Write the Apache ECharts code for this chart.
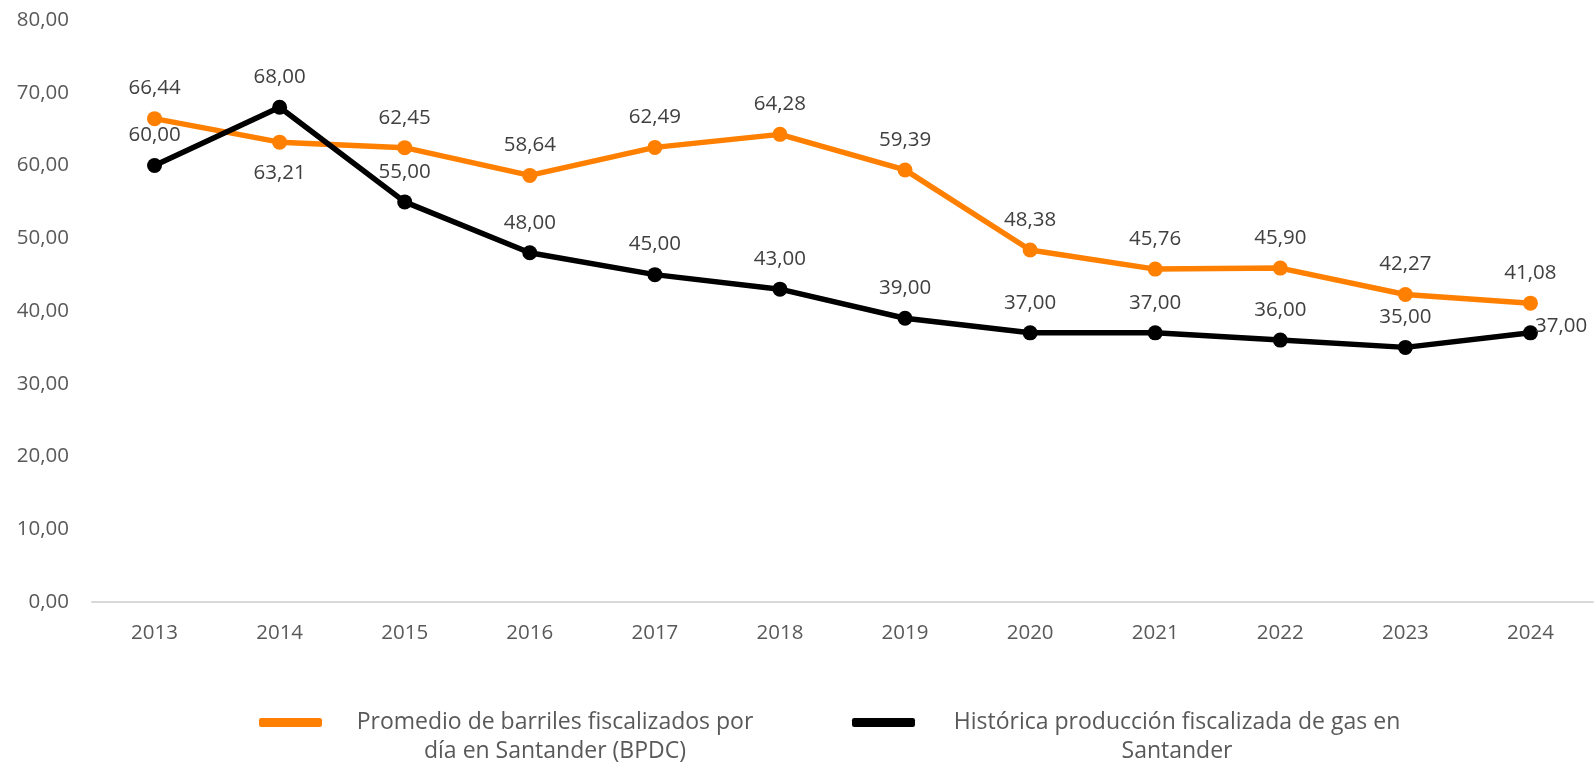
<!DOCTYPE html>
<html>
<head>
<meta charset="utf-8">
<script src="https://cdn.jsdelivr.net/npm/echarts@6/dist/echarts.min.js"></script>
<style>
  html, body { margin: 0; padding: 0; background: #fff; }
  #chart { width: 1595px; height: 763px; }
</style>
</head>
<body>
<div id="chart"></div>
<script>
// categorías (años)
const years = ['2013', '2014', '2015', '2016', '2017', '2018', '2019', '2020', '2021', '2022', '2023', '2024'];

// series
const barriles = [66.44, 63.21, 62.45, 58.64, 62.49, 64.28, 59.39, 48.38, 45.76, 45.90, 42.27, 41.08];
const gas = [60, 68, 55, 48, 45, 43, 39, 37, 37, 36, 35, 37];

const nameBarriles = 'Promedio de barriles fiscalizados por día en Santander (BPDC)';
const nameGas = 'Histórica producción fiscalizada de gas en Santander';

const fmt = v => Number(v).toFixed(2).replace('.', ',');
const font = '"Open Sans", Lato, sans-serif';

const chart = echarts.init(document.getElementById('chart'));

const labelStyle = {
  show: true,
  position: 'top',
  distance: 12,
  color: '#404040',
  fontSize: 20.5,
  fontFamily: font,
  formatter: p => fmt(p.value)
};

const option = {
  animation: false,
  grid: { left: 92, right: 2, top: 20, bottom: 161 },
  legend: [
    {
      data: [nameBarriles],
      left: 254,
      top: 706,
      itemWidth: 63,
      itemHeight: 9,
      icon: 'roundRect',
      formatter: () => '{a|Promedio de barriles fiscalizados por}\n{a|día en Santander (BPDC)}',
      textStyle: {
        padding: [29, 0, 0, 28],
        rich: { a: { width: 400, align: 'center', fontSize: 23, lineHeight: 29, color: '#595959', fontFamily: font } }
      }
    },
    {
      data: [nameGas],
      left: 847,
      top: 706,
      itemWidth: 63,
      itemHeight: 9,
      icon: 'roundRect',
      formatter: () => '{a|Histórica producción fiscalizada de gas en}\n{a|Santander}',
      textStyle: {
        padding: [29, 0, 0, 32],
        rich: { a: { width: 450, align: 'center', fontSize: 23, lineHeight: 29, color: '#595959', fontFamily: font } }
      }
    }
  ],
  xAxis: {
    type: 'category',
    data: years,
    boundaryGap: true,
    axisLine: { lineStyle: { color: '#d9d9d9', width: 2 } },
    axisTick: { show: false },
    axisLabel: { color: '#595959', fontSize: 20.5, fontFamily: font, margin: 21 }
  },
  yAxis: {
    type: 'value',
    min: 0,
    max: 80,
    interval: 10,
    axisLine: { show: false },
    axisTick: { show: false },
    splitLine: { show: false },
    axisLabel: { color: '#595959', fontSize: 20.5, fontFamily: font, margin: 23, formatter: fmt }
  },
  series: [
    {
      name: nameBarriles,
      type: 'line',
      color: '#ff8000',
      symbol: 'circle',
      symbolSize: 15,
      lineStyle: { width: 5.5, color: '#ff8000' },
      itemStyle: { color: '#ff8000' },
      label: labelStyle,
      data: barriles.map((v, i) => i === 1
        ? { value: v, label: { position: 'bottom', distance: 13 } }
        : v)
    },
    {
      name: nameGas,
      type: 'line',
      color: '#000000',
      symbol: 'circle',
      symbolSize: 15,
      lineStyle: { width: 5.5, color: '#000000' },
      itemStyle: { color: '#000000' },
      label: labelStyle,
      data: gas.map((v, i) => i === gas.length - 1
        ? { value: v, label: { position: 'right', distance: -3, offset: [0, -7] } }
        : v)
    }
  ]
};

chart.setOption(option);
window.addEventListener('resize', () => chart.resize());
</script>
</body>
</html>
